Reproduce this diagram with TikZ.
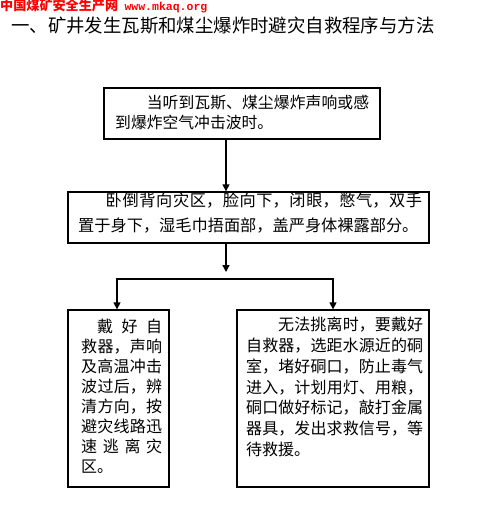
\documentclass[tikz,border=0pt]{standalone}
\usepackage{fontspec}
\newfontfamily\cjk{Noto Sans CJK SC}
\newfontfamily\urlfont{Liberation Mono}
\usetikzlibrary{arrows.meta,positioning}
\XeTeXlinebreaklocale "zh"
\XeTeXlinebreakskip=0pt plus 3pt minus 0.3pt
\colorlet{siteRed}{red}
\tikzset{
  tri/.tip={Triangle[width=7pt,length=7pt]},
  box/.style={draw, line width=1.3pt, inner sep=0pt},
  txt/.style={anchor=north west, inner sep=0pt, align=justify},
  arr/.style={line width=1.3pt, -tri},
  bothArr/.style={line width=1.3pt, tri-tri},
}
\begin{document}
\begin{tikzpicture}[x=1pt, y=-1pt]
    \useasboundingbox (0,0) rectangle (489,516);

    % header and title
    \node[anchor=west, inner sep=0pt, text=siteRed, font={\cjk\bfseries\fontsize{13.1}{14}\selectfont}] (site) at (0,6) {中国煤矿安全生产网};
    \node[anchor=base west, inner sep=0pt, text=siteRed, font={\urlfont\bfseries\fontsize{11.5}{12}\selectfont}] (url) at ([xshift=6pt]site.base east) {www.mkaq.org};
    \node[anchor=west, inner sep=0pt, font={\cjk\fontsize{18.4}{20}\selectfont}] (title) at (11,26) {一、矿井发生瓦斯和煤尘爆炸时避灾自救程序与方法};

    % boxes
    \node[box, minimum width=276, minimum height=51] (b1) at (242,113.5) {};
    \node[box, minimum width=361, minimum height=51] (b2) at (248.5,217.5) {};
    \node[box, minimum width=101, minimum height=177] (b3) at (118.5,398.5) {};
    \node[box, minimum width=192, minimum height=177] (b4) at (333,398.5) {};

    % box texts
    \node[txt, text width=254pt, font={\cjk\fontsize{15.8}{20}\selectfont}] (t1) at (115,95)
        {\noindent\hspace*{2em}当听到瓦斯、煤尘爆炸声响或感\linebreak 到爆炸空气冲击波时。};
    \node[txt, text width=344pt, font={\cjk\fontsize{16.2}{25}\selectfont}] (t2) at (78,193)
        {\noindent\hspace*{1.7em}卧倒背向灾区，脸向下，闭眼，憋气，双手\linebreak 置于身下，湿毛巾捂面部，盖严身体裸露部分。};
    \node[txt, text width=81pt, font={\cjk\fontsize{16}{20}\selectfont}] (t3) at (81,319)
        {\noindent\hspace*{1em}戴好自\linebreak 救器，声响\linebreak 及高温冲击\linebreak 波过后，辨\linebreak 清方向，按\linebreak 避灾线路迅\linebreak 速逃离灾\linebreak 区。};
    \node[txt, text width=177pt, font={\cjk\fontsize{16}{20.8}\selectfont}] (t4) at (246,317)
        {\noindent\hspace*{2em}无法挑离时，要戴好\linebreak 自救器，选距水源近的硐\linebreak 室，堵好硐口，防止毒气\linebreak 进入，计划用灯、用粮，\linebreak 硐口做好标记，敲打金属\linebreak 器具，发出求救信号，等\linebreak 待救援。};

    % connectors
    \coordinate (mid) at (226,272);
    \coordinate (forkL) at (117,279);
    \coordinate (forkR) at (333,279);

    \draw[arr] (b1.south -| mid) -- (b2.north -| mid);
    \draw[arr] (b2.south -| mid) -- (mid);
    \draw[bothArr] (b3.north -| forkL) -- (forkL) -- (forkR) -- (b4.north -| forkR);

\end{tikzpicture}
\end{document}
